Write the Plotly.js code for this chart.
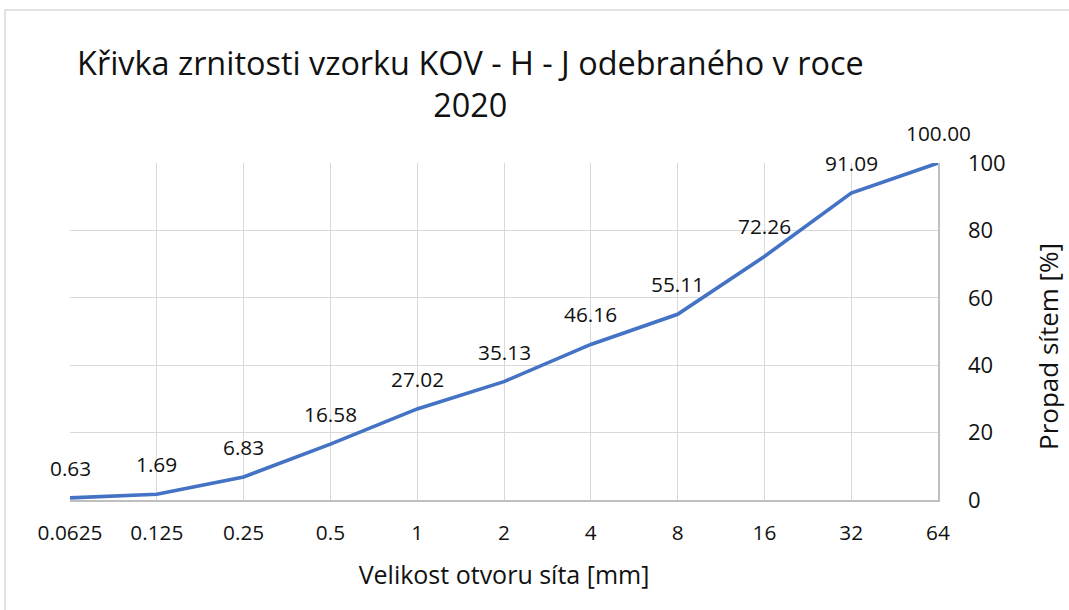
<!DOCTYPE html>
<html>
<head>
<meta charset="utf-8">
<script src="https://cdn.plot.ly/plotly-3.0.1.min.js"></script>
<style>html,body{margin:0;padding:0;background:#fff}</style>
</head>
<body>
<div id="chart" style="width:1069px;height:610px"></div>
<script>
const sieveSizes = ["0.0625", "0.125", "0.25", "0.5", "1", "2", "4", "8", "16", "32", "64"];
const passingPercent = [0.63, 1.69, 6.83, 16.58, 27.02, 35.13, 46.16, 55.11, 72.26, 91.09, 100.00];
const titleLines = ["Křivka zrnitosti vzorku KOV - H - J odebraného v roce", "2020"];
const xTitle = "Velikost otvoru síta [mm]";
const yTitle = "Propad sítem [%]";

const FONT = "Open Sans, Noto Sans, sans-serif";
const trace = {
  x: sieveSizes,
  y: passingPercent,
  type: "scatter",
  mode: "lines",
  line: {color: "#4472C4", width: 3.6},
  hoverinfo: "x+y"
};
const labels = sieveSizes.map((s, i) => ({
  x: i, y: passingPercent[i], xref: "x", yref: "y",
  text: passingPercent[i].toFixed(2), showarrow: false,
  yshift: 30, yanchor: "middle", xanchor: "center",
  font: {family: FONT, size: 20.8, color: "#111"}
}));
labels.push({
  xref: "paper", yref: "paper", x: (1048 - 70) / 868, y: (500 - 347) / 337,
  text: yTitle, textangle: -90, showarrow: false,
  xanchor: "center", yanchor: "middle",
  font: {family: FONT, size: 26, color: "#111"}
});
const layout = {
  width: 1069, height: 610,
  margin: {l: 70, r: 131, t: 163, b: 110},
  paper_bgcolor: "#fff", plot_bgcolor: "#fff",
  showlegend: false,
  font: {family: FONT, color: "#111"},
  title: {text: titleLines.join("<br>"), font: {family: FONT, size: 32.4, color: "#111"},
          x: 0.44, xanchor: "center", y: 0.877, yanchor: "top"},
  xaxis: {
    type: "category",
    range: [0, sieveSizes.length - 1],
    showgrid: true, gridcolor: "#d9d9d9", gridwidth: 1,
    showline: true, linecolor: "#bfbfbf", linewidth: 1.5,
    ticks: "", tickfont: {family: FONT, size: 20.8, color: "#111"},
    ticklabelstandoff: 14,
    title: {text: xTitle, font: {family: FONT, size: 25, color: "#111"}, standoff: 21},
    zeroline: false, fixedrange: true
  },
  yaxis: {
    side: "right",
    range: [0, 100], dtick: 20,
    showgrid: true, gridcolor: "#d9d9d9", gridwidth: 1,
    showline: true, linecolor: "#bfbfbf", linewidth: 1.5,
    ticks: "", tickfont: {family: FONT, size: 22, color: "#111"},
    ticklabelstandoff: 24,
    zeroline: false, fixedrange: true
  },
  annotations: labels,
  shapes: [{
    type: "rect", xref: "paper", yref: "paper",
    x0: (5 - 70) / 868, x1: (1080 - 70) / 868,
    y0: (500 - 620) / 337, y1: (500 - 10) / 337,
    line: {color: "#d9d9d9", width: 1.5}, fillcolor: "rgba(0,0,0,0)", layer: "below"
  }]
};
Plotly.newPlot("chart", [trace], layout, {displayModeBar: false, staticPlot: true});
</script>
</body>
</html>
